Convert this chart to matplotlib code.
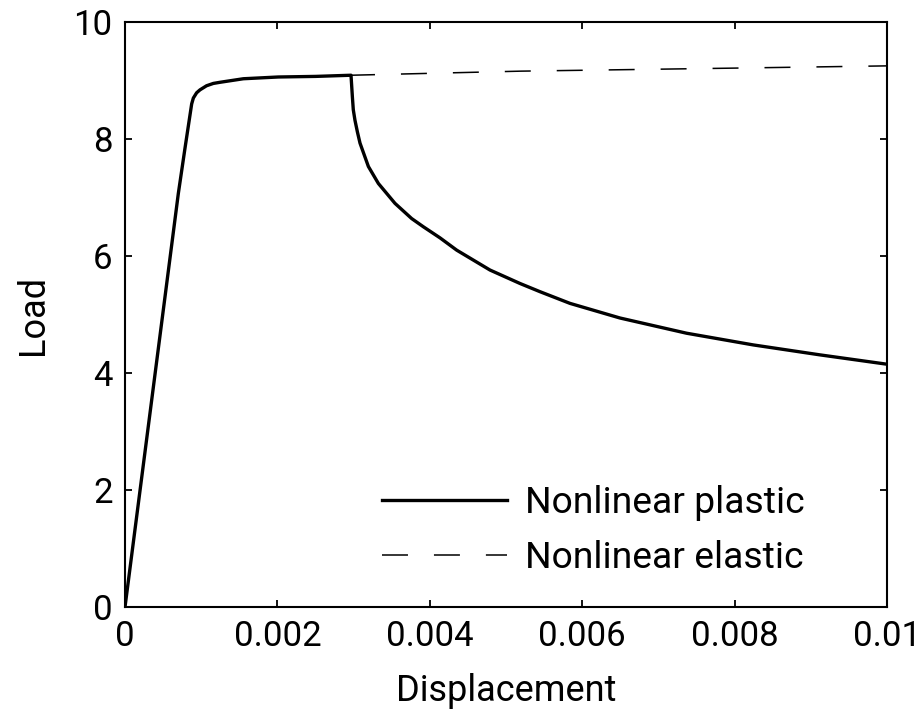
import matplotlib
matplotlib.use("Agg")
import matplotlib.pyplot as plt

plt.rcParams['font.family'] = ['Roboto', 'DejaVu Sans']

# Nonlinear plastic curve (displacement, load)
plastic_x = [0.0, 0.0007, 0.000787, 0.000853, 0.000875, 0.000897, 0.00094, 0.000984,
             0.00107, 0.001159, 0.00125, 0.001553, 0.002012, 0.0025, 0.002966,
             0.002984, 0.002996, 0.003018, 0.003050, 0.003084, 0.003194, 0.003325,
             0.003543, 0.003762, 0.003915, 0.004134, 0.004353, 0.00479,
             0.005184, 0.005446, 0.00584, 0.006496, 0.00737, 0.008245, 0.00912, 0.01]
plastic_y = [0.0, 7.07, 7.84, 8.41, 8.60, 8.70, 8.79, 8.84,
             8.91, 8.95, 8.97, 9.03, 9.06, 9.07, 9.09,
             8.72, 8.50, 8.32, 8.12, 7.93, 7.53, 7.24,
             6.90, 6.64, 6.50, 6.31, 6.10, 5.76,
             5.53, 5.39, 5.19, 4.94, 4.68, 4.48, 4.31, 4.15]

# Nonlinear elastic curve (coincides with plastic up to the peak)
elastic_x = [0.0, 0.0007, 0.000787, 0.000853, 0.000875, 0.000897, 0.00094, 0.000984,
             0.00107, 0.001159, 0.00125, 0.001553, 0.002012, 0.0025, 0.002966,
             0.0052, 0.0079, 0.01]
elastic_y = [0.0, 7.07, 7.84, 8.41, 8.60, 8.70, 8.79, 8.84,
             8.91, 8.95, 8.97, 9.03, 9.06, 9.07, 9.09,
             9.16, 9.21, 9.25]

xticks = [0, 0.002, 0.004, 0.006, 0.008, 0.01]
xticklabels = ['0', '0.002', '0.004', '0.006', '0.008', '0.01']
yticks = [0, 2, 4, 6, 8, 10]

fig = plt.figure(figsize=(9.24, 7.16), dpi=100)
ax = fig.add_axes([125/924, 1-607/716, 762/924, 585/716])

ax.plot(elastic_x, elastic_y, color='black', lw=1.1, dashes=(17, 17),
        label='Nonlinear elastic', zorder=2)
ax.plot(plastic_x, plastic_y, color='black', lw=2.4, label='Nonlinear plastic',
        zorder=3, solid_joinstyle='round')

ax.set_xlim(0, 0.01)
ax.set_ylim(0, 10)
ax.set_xticks(xticks)
ax.set_xticklabels(xticklabels)
ax.set_yticks(yticks)
ax.tick_params(direction='in', length=5, width=1.3, top=True, right=True,
               labelsize=25, pad=9)
for s in ax.spines.values():
    s.set_linewidth(1.5)

ax.set_xlabel('Displacement', fontsize=26, labelpad=15)
ax.set_ylabel('Load', fontsize=26, labelpad=16)

handles, labels = ax.get_legend_handles_labels()
leg = ax.legend(handles[::-1], labels[::-1], loc='lower left',
                bbox_to_anchor=(0.318, 0.027), frameon=False, fontsize=26.8,
                handlelength=3.36, handletextpad=0.48, labelspacing=0.52,
                borderaxespad=0)

fig.savefig('out.png', dpi=100)
